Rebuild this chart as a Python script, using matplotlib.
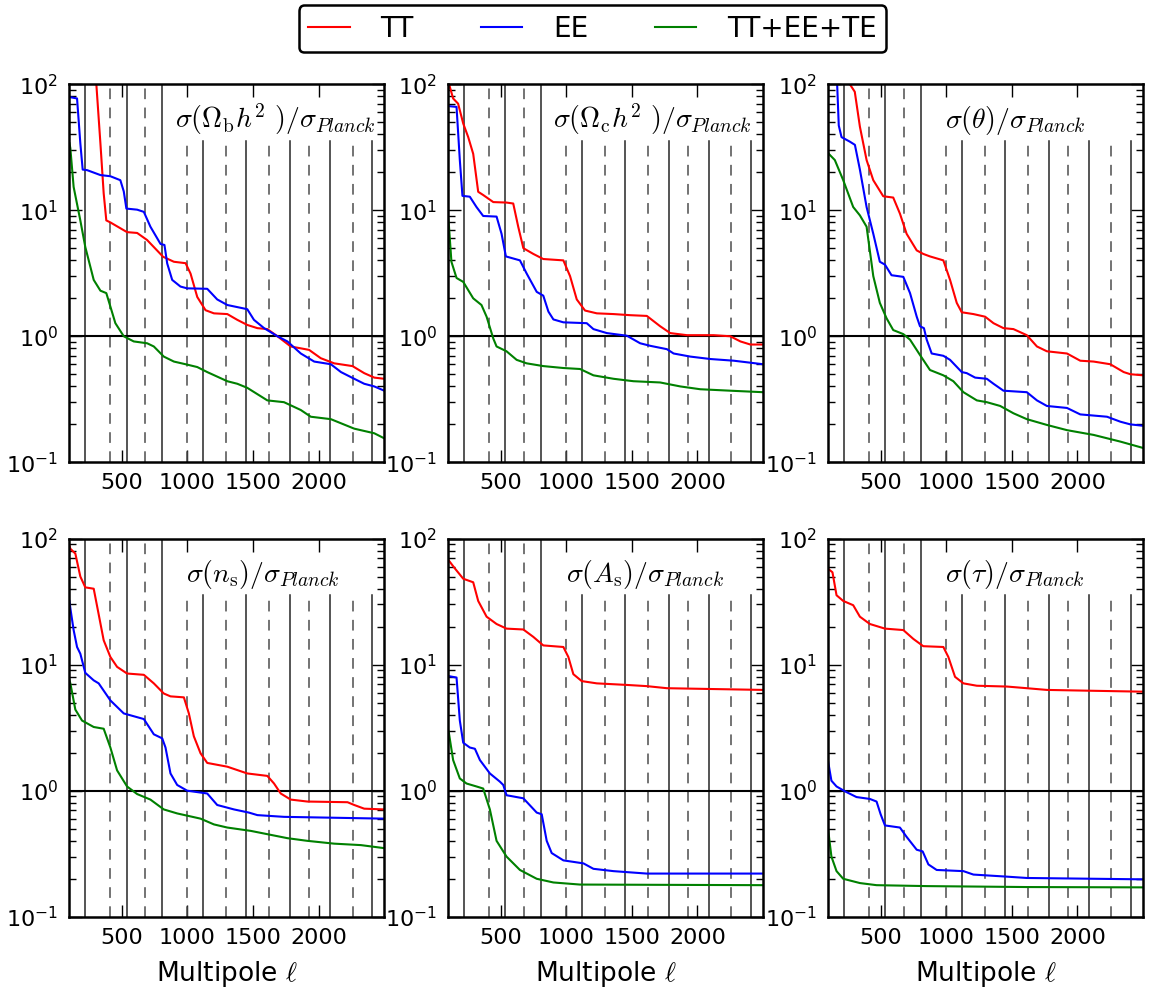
import matplotlib
matplotlib.use("Agg")
import matplotlib.pyplot as plt
import numpy as np

plt.rcParams['mathtext.fontset'] = 'cm'
plt.rcParams['font.family'] = ['DejaVu Sans']
plt.rcParams['axes.unicode_minus'] = False

# peak (solid) and trough (dashed) multipoles
peaks = [220, 537, 810, 1120, 1444, 1780, 2085, 2405]
troughs = [410, 675, 1000, 1295, 1620, 1925, 2258]

labels = [r'$\sigma(\Omega_{\rm b}h^2\ )/\sigma_{Planck}$',
          r'$\sigma(\Omega_{\rm c}h^2\ )/\sigma_{Planck}$',
          r'$\sigma(\theta)/\sigma_{Planck}$',
          r'$\sigma(n_{\rm s})/\sigma_{Planck}$',
          r'$\sigma(A_{\rm s})/\sigma_{Planck}$',
          r'$\sigma(\tau)/\sigma_{Planck}$']

# --- Omega_b h^2
ob_tt_l = [250, 306, 337, 362, 382, 413, 540, 617, 693, 815, 897, 986, 1024, 1075, 1138, 1202, 1304, 1380, 1456, 1533, 1609, 1686, 1787, 1927, 2016, 2118, 2258, 2347, 2424, 2500]
ob_tt_v = [400, 100, 34, 13.6, 8.3, 8.0, 6.7, 6.6, 5.8, 4.27, 3.9, 3.8, 3.14, 2.05, 1.61, 1.52, 1.5, 1.35, 1.23, 1.16, 1.14, 1.0, 0.83, 0.78, 0.67, 0.61, 0.58, 0.51, 0.47, 0.46]
ob_ee_l = [101, 159, 184, 202, 235, 337, 413, 489, 515, 535, 617, 668, 718, 795, 825, 846, 884, 947, 998, 1151, 1227, 1304, 1456, 1507, 1584, 1686, 1762, 1864, 1966, 2093, 2170, 2271, 2347, 2424, 2500]
ob_ee_v = [79, 77, 34, 21, 20.8, 19, 18.6, 17.3, 14.1, 10.3, 10.1, 9.7, 7.4, 5.4, 5.3, 3.78, 2.8, 2.48, 2.4, 2.38, 1.96, 1.77, 1.64, 1.35, 1.16, 1.0, 0.91, 0.73, 0.63, 0.6, 0.52, 0.46, 0.42, 0.4, 0.37]
ob_all_l = [101, 108, 133, 184, 222, 286, 337, 382, 413, 451, 515, 591, 693, 744, 820, 897, 986, 1075, 1151, 1304, 1380, 1456, 1609, 1736, 1864, 1940, 2093, 2271, 2424, 2500]
ob_all_v = [34, 31, 15.3, 8.3, 5.1, 2.8, 2.3, 2.2, 1.72, 1.27, 1.0, 0.91, 0.88, 0.83, 0.69, 0.63, 0.6, 0.57, 0.52, 0.44, 0.42, 0.39, 0.31, 0.30, 0.26, 0.23, 0.22, 0.185, 0.17, 0.155]

# --- Omega_c h^2
oc_tt_l = [101, 113, 138, 176, 215, 253, 291, 329, 367, 444, 545, 596, 634, 673, 749, 825, 978, 1029, 1080, 1143, 1233, 1360, 1487, 1614, 1716, 1792, 1920, 2123, 2250, 2327, 2403, 2500]
oc_tt_v = [110, 95, 77, 70, 48.7, 38, 28, 14, 13.2, 11.6, 11.5, 11.3, 7.4, 5.0, 4.5, 4.1, 4.0, 3.0, 1.96, 1.6, 1.52, 1.5, 1.47, 1.45, 1.2, 1.06, 1.02, 1.02, 1.0, 0.91, 0.86, 0.86]
oc_ee_l = [101, 164, 189, 209, 265, 316, 367, 469, 507, 540, 647, 698, 775, 825, 864, 902, 978, 1156, 1207, 1309, 1462, 1563, 1640, 1767, 1818, 1945, 2098, 2276, 2500]
oc_ee_v = [67, 66, 25, 13, 12.8, 10.6, 9.0, 8.9, 6.5, 4.3, 4.0, 3.15, 2.25, 2.1, 1.57, 1.36, 1.29, 1.27, 1.14, 1.06, 1.01, 0.88, 0.84, 0.79, 0.73, 0.69, 0.66, 0.64, 0.60]
oc_all_l = [101, 105, 125, 164, 215, 291, 354, 393, 444, 469, 545, 622, 698, 825, 978, 1105, 1207, 1360, 1512, 1716, 1869, 2021, 2250, 2500]
oc_all_v = [8.5, 7.8, 3.9, 2.9, 2.7, 2.0, 1.77, 1.43, 0.96, 0.83, 0.76, 0.65, 0.61, 0.58, 0.56, 0.55, 0.49, 0.46, 0.44, 0.43, 0.40, 0.38, 0.37, 0.36]

# --- theta
th_tt_l = [240, 265, 303, 342, 393, 444, 520, 596, 647, 698, 775, 825, 876, 978, 1029, 1080, 1118, 1207, 1296, 1360, 1436, 1512, 1614, 1691, 1767, 1920, 2021, 2123, 2250, 2352, 2403, 2500]
th_tt_v = [200, 100, 87, 46, 25, 17.3, 12.9, 12.6, 9.4, 6.5, 4.8, 4.5, 4.3, 4.0, 2.8, 1.84, 1.55, 1.5, 1.43, 1.27, 1.16, 1.14, 1.02, 0.83, 0.76, 0.73, 0.64, 0.63, 0.60, 0.52, 0.50, 0.49]
th_ee_l = [160, 169, 181, 202, 265, 304, 342, 393, 444, 494, 533, 583, 673, 724, 775, 800, 830, 851, 889, 978, 1029, 1118, 1156, 1220, 1309, 1360, 1436, 1614, 1691, 1767, 1920, 2021, 2225, 2327, 2403, 2500]
th_ee_v = [200, 98, 47, 38, 35, 33, 21, 10.6, 6.5, 3.9, 3.7, 3.05, 2.96, 2.2, 1.43, 1.2, 1.16, 0.94, 0.73, 0.70, 0.65, 0.52, 0.51, 0.47, 0.46, 0.42, 0.37, 0.36, 0.31, 0.28, 0.27, 0.24, 0.23, 0.21, 0.20, 0.195]
th_all_l = [101, 105, 151, 215, 291, 342, 393, 444, 494, 545, 596, 673, 724, 800, 876, 978, 1054, 1131, 1233, 1309, 1411, 1512, 1614, 1767, 1920, 2123, 2327, 2500]
th_all_v = [28.5, 28, 25, 17.3, 10.6, 9.1, 7.4, 3.0, 1.84, 1.39, 1.12, 1.04, 0.94, 0.71, 0.54, 0.49, 0.44, 0.36, 0.31, 0.30, 0.28, 0.245, 0.22, 0.198, 0.18, 0.165, 0.146, 0.13]

# --- n_s
ns_tt_l = [101, 108, 146, 184, 222, 286, 324, 362, 413, 464, 540, 668, 744, 820, 871, 973, 1011, 1049, 1100, 1151, 1304, 1456, 1609, 1660, 1711, 1787, 1914, 2220, 2271, 2347, 2500]
ns_tt_v = [88, 83, 76, 50, 41, 40, 25, 15.6, 11.5, 9.6, 8.5, 8.3, 7.1, 5.9, 5.6, 5.5, 4.1, 2.7, 1.98, 1.66, 1.55, 1.37, 1.31, 1.14, 0.95, 0.85, 0.82, 0.81, 0.77, 0.72, 0.71]
ns_ee_l = [101, 108, 133, 159, 184, 222, 286, 324, 413, 515, 668, 744, 808, 833, 871, 922, 998, 1151, 1227, 1355, 1469, 1533, 1736, 2118, 2500]
ns_ee_v = [32, 28, 18.8, 13.8, 12.2, 8.6, 7.5, 7.1, 5.2, 4.1, 3.7, 2.8, 2.6, 2.2, 1.37, 1.11, 1.0, 0.95, 0.77, 0.71, 0.67, 0.64, 0.62, 0.61, 0.60]
ns_all_l = [101, 108, 146, 197, 286, 362, 413, 464, 540, 617, 718, 820, 922, 1100, 1202, 1304, 1482, 1762, 1914, 2118, 2322, 2500]
ns_all_v = [7.5, 7.1, 4.4, 3.6, 3.2, 3.1, 2.2, 1.45, 1.08, 0.94, 0.85, 0.71, 0.66, 0.60, 0.54, 0.51, 0.48, 0.42, 0.40, 0.38, 0.37, 0.35]

# --- A_s
as_tt_l = [101, 105, 151, 215, 291, 329, 393, 469, 545, 673, 749, 825, 978, 1016, 1054, 1118, 1233, 1462, 1614, 1767, 2123, 2500]
as_tt_v = [68, 67, 58, 48, 45, 32, 24, 21, 19.3, 19, 16.6, 14.2, 13.8, 11.5, 8.4, 7.4, 7.1, 6.9, 6.75, 6.5, 6.4, 6.3]
as_ee_l = [101, 105, 164, 189, 215, 265, 304, 342, 418, 494, 520, 545, 596, 673, 775, 813, 851, 889, 978, 1131, 1207, 1360, 1614, 2500]
as_ee_v = [8.1, 8.1, 7.9, 3.6, 2.4, 2.2, 2.15, 1.75, 1.37, 1.18, 1.11, 0.92, 0.9, 0.87, 0.67, 0.65, 0.40, 0.32, 0.28, 0.265, 0.24, 0.23, 0.22, 0.22]
as_all_l = [101, 105, 138, 189, 240, 316, 367, 418, 469, 545, 647, 775, 902, 1105, 2500]
as_all_v = [3.0, 2.9, 1.75, 1.25, 1.14, 1.08, 1.04, 0.71, 0.40, 0.30, 0.235, 0.2, 0.187, 0.18, 0.178]

# --- tau
ta_tt_l = [101, 105, 133, 164, 215, 291, 342, 418, 533, 673, 749, 825, 978, 1016, 1067, 1131, 1233, 1462, 1614, 1767, 2123, 2500]
ta_tt_v = [57, 57, 54, 35.5, 32, 29.6, 24, 21, 19.3, 18.8, 16, 14, 13.8, 11.5, 8, 7.1, 6.8, 6.7, 6.5, 6.3, 6.2, 6.1]
ta_ee_l = [100, 125, 164, 227, 316, 418, 469, 500, 533, 647, 698, 775, 820, 864, 927, 1131, 1207, 1462, 1614, 2500]
ta_ee_v = [1.7, 1.2, 1.08, 0.99, 0.89, 0.86, 0.82, 0.65, 0.53, 0.51, 0.43, 0.34, 0.33, 0.26, 0.235, 0.23, 0.216, 0.208, 0.203, 0.198]
ta_all_l = [100, 125, 164, 215, 342, 469, 851, 1614, 2500]
ta_all_v = [0.49, 0.30, 0.23, 0.20, 0.185, 0.178, 0.175, 0.172, 0.171]

curves = [
    [(ob_tt_l, ob_tt_v), (ob_ee_l, ob_ee_v), (ob_all_l, ob_all_v)],
    [(oc_tt_l, oc_tt_v), (oc_ee_l, oc_ee_v), (oc_all_l, oc_all_v)],
    [(th_tt_l, th_tt_v), (th_ee_l, th_ee_v), (th_all_l, th_all_v)],
    [(ns_tt_l, ns_tt_v), (ns_ee_l, ns_ee_v), (ns_all_l, ns_all_v)],
    [(as_tt_l, as_tt_v), (as_ee_l, as_ee_v), (as_all_l, as_all_v)],
    [(ta_tt_l, ta_tt_v), (ta_ee_l, ta_ee_v), (ta_all_l, ta_all_v)],
]
names = ['TT', 'EE', 'TT+EE+TE']
colors = ['r', 'b', 'g']
label_x = [0.335, 0.332, 0.372, 0.372, 0.375, 0.372]

fig = plt.figure(figsize=(11.55, 9.9), dpi=100)
lefts = [0.060, 0.388, 0.717]
bottoms = [0.533, 0.074]

for i in range(6):
    row, col = i // 3, i % 3
    ax = fig.add_axes([lefts[col], bottoms[row], 0.2727, 0.382])
    for x in peaks:
        ax.axvline(x, ymax=1.0 if x < 950 else 0.85, color='0.15', lw=1.1)
    for x in troughs:
        ax.axvline(x, ymax=1.0 if x < 950 else 0.85, color='0.3', lw=1.1, dashes=(7, 5.5))
    ax.axhline(1.0, color='k', lw=1.5)
    for (l, v), c, n in zip(curves[i], colors, names):
        ax.plot(l, v, color=c, lw=1.5, label=n)
    ax.set_yscale('log')
    ax.set_xlim(100, 2500)
    ax.set_ylim(0.1, 100)
    ax.set_xticks([500, 1000, 1500, 2000])
    ax.tick_params(which='both', direction='in', top=True, right=True, labelsize=16, width=1)
    ax.tick_params(which='major', length=9)
    ax.tick_params(which='minor', length=5)
    ax.tick_params(axis='y', which='both', pad=8)
    ax.tick_params(axis='x', which='both', pad=8)
    for sp in ax.spines.values():
        sp.set_linewidth(1.8)
    ax.text(label_x[i], 0.885, labels[i], transform=ax.transAxes, fontsize=20, ha='left', va='baseline')
    if row == 1:
        ax.set_xlabel(r'Multipole $\ell$', fontsize=19, labelpad=8)
    if i == 0:
        handles, hl = ax.get_legend_handles_labels()

leg = fig.legend(handles, hl, loc='upper center', bbox_to_anchor=(0.513, 1.009), ncol=3,
                 fontsize=20, handlelength=1.5, handletextpad=1.1, columnspacing=2.4,
                 fancybox=True, framealpha=1, edgecolor='k', borderpad=0.35)
leg.get_frame().set_linewidth(1.8)

fig.savefig('out.png', dpi=100)
